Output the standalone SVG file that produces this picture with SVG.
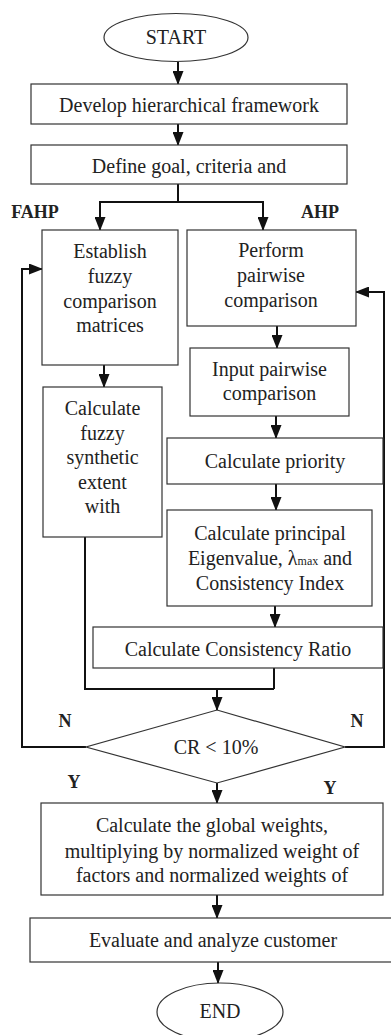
<svg xmlns="http://www.w3.org/2000/svg" width="391" height="1035" viewBox="0 0 391 1035">
<style>
.box{fill:#fff;stroke:#333;stroke-width:1.2}
.t{font-family:"Liberation Serif","Times New Roman",serif;font-size:20px;fill:#222;text-anchor:middle}
.b{font-family:"Liberation Serif","Times New Roman",serif;font-size:18px;font-weight:bold;fill:#222;text-anchor:middle}
.c{fill:none;stroke:#111;stroke-width:2}
.a{marker-end:url(#ah)}
</style>
<defs>
<marker id="ah" markerUnits="userSpaceOnUse" markerWidth="14" markerHeight="11" refX="13" refY="5.5" orient="auto">
<path d="M0,0 L14,5.5 L0,11 z" fill="#111"/>
</marker>
</defs>
<rect width="391" height="1035" fill="#fff"/>
<g id="connectors">
<path class="c a" d="M178,62 V84"/>
<path class="c a" d="M178,124 V145"/>
<path class="c" d="M178,184 V202"/>
<path class="c" d="M100,202 H263"/>
<path class="c a" d="M100,201 V230"/>
<path class="c a" d="M263,201 V230"/>
<path class="c a" d="M104,365 V387"/>
<path class="c a" d="M277,326 V348"/>
<path class="c a" d="M276,416 V438"/>
<path class="c a" d="M276,484 V510"/>
<path class="c a" d="M275,606 V627"/>
<path class="c" d="M85,537 V689 H274"/>
<path class="c" d="M274,668 V689"/>
<path class="c a" d="M217,689 V710"/>
<path class="c a" d="M86,747 H22 V269 H42"/>
<path class="c a" d="M345,747 H384 V292 H356"/>
<path class="c a" d="M217,783 V803"/>
<path class="c a" d="M217,895 V918"/>
<path class="c a" d="M218,962 V983"/>
</g>
<g id="start">
<ellipse class="box" cx="176" cy="37.5" rx="72" ry="24"/>
<text class="t" x="176" y="44">START</text>
</g>
<g id="develop">
<rect class="box" x="31" y="84" width="316" height="40"/>
<text class="t" x="189" y="112">Develop hierarchical framework</text>
</g>
<g id="define">
<rect class="box" x="31" y="145" width="316" height="39"/>
<text class="t" x="189" y="173">Define goal, criteria and</text>
</g>
<g id="label-fahp"><text class="b" x="35" y="218">FAHP</text></g>
<g id="label-ahp"><text class="b" x="320" y="218">AHP</text></g>
<g id="establish">
<rect class="box" x="42" y="230" width="136" height="135"/>
<text class="t" x="110" y="258">Establish</text>
<text class="t" x="110" y="283">fuzzy</text>
<text class="t" x="110" y="308">comparison</text>
<text class="t" x="110" y="332">matrices</text>
</g>
<g id="perform">
<rect class="box" x="187" y="230" width="169" height="96"/>
<text class="t" x="271" y="257">Perform</text>
<text class="t" x="271" y="282">pairwise</text>
<text class="t" x="271" y="307">comparison</text>
</g>
<g id="input">
<rect class="box" x="190" y="348" width="159" height="68"/>
<text class="t" x="269.5" y="376">Input pairwise</text>
<text class="t" x="269.5" y="400">comparison</text>
</g>
<g id="fuzzy-extent">
<rect class="box" x="43" y="387" width="119" height="150"/>
<text class="t" x="102.5" y="415">Calculate</text>
<text class="t" x="102.5" y="440">fuzzy</text>
<text class="t" x="102.5" y="464">synthetic</text>
<text class="t" x="102.5" y="489">extent</text>
<text class="t" x="102.5" y="513">with</text>
</g>
<g id="priority">
<rect class="box" x="167" y="438" width="216" height="46"/>
<text class="t" x="275" y="468">Calculate priority</text>
</g>
<g id="eigen">
<rect class="box" x="167" y="510" width="205" height="96"/>
<text class="t" x="270" y="540">Calculate principal</text>
<text class="t" x="270" y="565">Eigenvalue, λ<tspan font-size="12">max</tspan> and</text>
<text class="t" x="270" y="590">Consistency Index</text>
</g>
<g id="cr">
<rect class="box" x="93" y="627" width="290" height="41"/>
<text class="t" x="238" y="656">Calculate Consistency Ratio</text>
</g>
<g id="decision">
<polygon class="box" points="217,710 345,747 217,783 86,747"/>
<text class="t" x="216" y="754">CR &lt; 10%</text>
</g>
<g id="label-n-left"><text class="b" x="65" y="727">N</text></g>
<g id="label-n-right"><text class="b" x="357" y="727">N</text></g>
<g id="label-y-left"><text class="b" x="74" y="788">Y</text></g>
<g id="label-y-right"><text class="b" x="330" y="794">Y</text></g>
<g id="global">
<rect class="box" x="41" y="803" width="342" height="92"/>
<text class="t" x="212" y="832">Calculate the global weights,</text>
<text class="t" x="212" y="858">multiplying by normalized weight of</text>
<text class="t" x="212" y="882">factors and normalized weights of</text>
</g>
<g id="evaluate">
<rect class="box" x="30" y="918" width="370" height="44"/>
<text class="t" x="213" y="947">Evaluate and analyze customer</text>
</g>
<g id="end">
<ellipse class="box" cx="220" cy="1012" rx="63" ry="29"/>
<text class="t" x="220" y="1018">END</text>
</g>
</svg>
